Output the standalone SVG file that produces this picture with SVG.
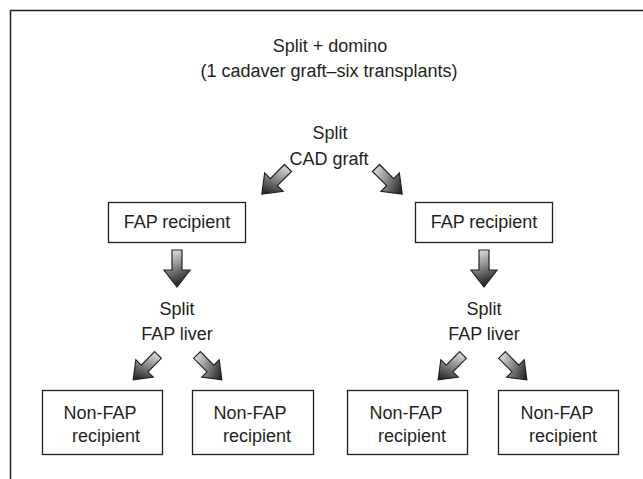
<svg xmlns="http://www.w3.org/2000/svg" width="643" height="479" viewBox="0 0 643 479">
<style>
text{font-family:"Liberation Sans","DejaVu Sans",sans-serif;font-size:18px;fill:#231f20;text-anchor:middle}
.box{fill:#fff;stroke:#231f20;stroke-width:1.3}
.arr{fill:url(#g);stroke:#231f20;stroke-width:1.2;stroke-linejoin:miter}
</style>
<defs>
<linearGradient id="g" x1="0" y1="0" x2="0.3" y2="1">
<stop offset="0" stop-color="#f2f2f2"/>
<stop offset="0.45" stop-color="#9a9a9a"/>
<stop offset="1" stop-color="#262626"/>
</linearGradient>
<polygon id="a" class="arr" points="-5,0 5,0 5,20 13,20 0,37 -13,20 -5,20"/>
</defs>
<rect width="643" height="479" fill="#fff"/>
<path d="M10.5,479 V10.5 H643" fill="none" stroke="#231f20" stroke-width="1.5"/>
<g id="title">
<text x="330" y="52">Split + domino</text>
<text x="329" y="77">(1 cadaver graft–six transplants)</text>
</g>
<g id="cad">
<text x="330" y="139">Split</text>
<text x="329" y="165">CAD graft</text>
</g>
<g id="fap-left">
<rect class="box" x="108.5" y="202.5" width="137" height="40"/>
<text x="177" y="228">FAP recipient</text>
</g>
<g id="fap-right">
<rect class="box" x="415.5" y="202.5" width="137" height="40"/>
<text x="484" y="228">FAP recipient</text>
</g>
<g id="liver-left">
<text x="177" y="315">Split</text>
<text x="177" y="340">FAP liver</text>
</g>
<g id="liver-right">
<text x="484" y="315">Split</text>
<text x="484" y="340">FAP liver</text>
</g>
<g id="nonfap-1">
<rect class="box" x="42.5" y="390.5" width="120" height="64"/>
<text x="100" y="419">Non-FAP</text>
<text x="106" y="442">recipient</text>
</g>
<g id="nonfap-2">
<rect class="box" x="192.5" y="390.5" width="121" height="64"/>
<text x="250" y="419">Non-FAP</text>
<text x="257" y="442">recipient</text>
</g>
<g id="nonfap-3">
<rect class="box" x="347.5" y="390.5" width="120" height="64"/>
<text x="406" y="419">Non-FAP</text>
<text x="412" y="442">recipient</text>
</g>
<g id="nonfap-4">
<rect class="box" x="498.5" y="390.5" width="120" height="64"/>
<text x="557" y="419">Non-FAP</text>
<text x="563" y="442">recipient</text>
</g>
<g id="connectors">
<use href="#a" transform="translate(288,168) rotate(45)"/>
<use href="#a" transform="translate(376,168) rotate(-45)"/>
<use href="#a" transform="translate(177,250)"/>
<use href="#a" transform="translate(484,250)"/>
<use href="#a" transform="translate(158,355) rotate(45) scale(0.95)"/>
<use href="#a" transform="translate(197,355) rotate(-45) scale(0.95)"/>
<use href="#a" transform="translate(463,355) rotate(45) scale(0.95)"/>
<use href="#a" transform="translate(502,355) rotate(-45) scale(0.95)"/>
</g>
</svg>
